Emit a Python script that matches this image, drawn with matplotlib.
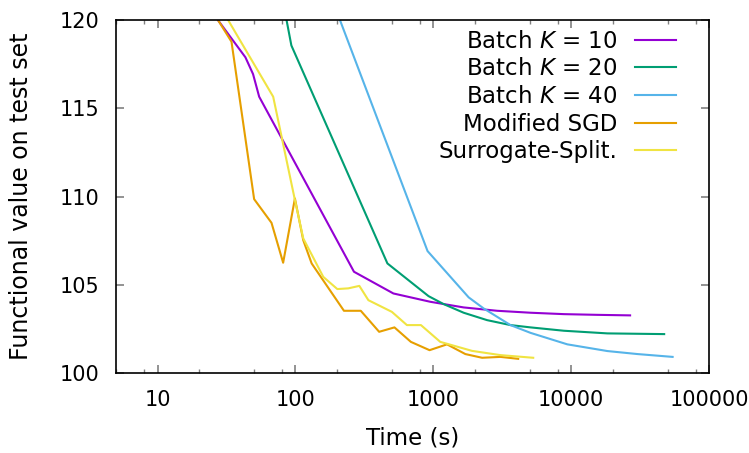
import matplotlib
matplotlib.use("Agg")
import matplotlib.pyplot as plt
from matplotlib.ticker import LogLocator, FixedLocator, FixedFormatter, NullFormatter

plt.rcParams['font.family'] = ['DejaVu Sans']
plt.rcParams['mathtext.fontset'] = 'dejavusans'

# series (time in s, functional value)
k10_t = [20.2, 43.4, 49.3, 54.6, 266, 514, 951, 1661, 2906, 5076, 8864, 15505, 26770]
k10_v = [121.4, 117.89, 116.94, 115.66, 105.75, 104.52, 104.05, 103.73, 103.54, 103.43, 103.35, 103.31, 103.28]

k20_t = [78.4, 93.5, 465, 924, 1188, 1661, 2458, 3631, 5076, 8864, 18340, 47300]
k20_v = [121.7, 118.56, 106.22, 104.37, 103.92, 103.43, 103.01, 102.73, 102.60, 102.41, 102.26, 102.22]

k40_t = [174, 909, 1806, 2322, 3631, 5076, 9385, 18340, 30300, 54450]
k40_v = [121.7, 106.92, 104.30, 103.67, 102.73, 102.29, 101.64, 101.26, 101.09, 100.93]

sgd_t = [20.1, 34.4, 50.2, 67.1, 81.5, 99.2, 114, 131.2, 225, 298, 405, 523, 688, 940, 1258, 1709, 2261, 3072, 4130]
sgd_v = [121.7, 118.77, 109.86, 108.52, 106.26, 109.90, 107.54, 106.22, 103.54, 103.54, 102.35, 102.60, 101.78, 101.31, 101.64, 101.09, 100.88, 100.93, 100.82]

sur_t = [24.2, 69.0, 99.2, 114, 159.3, 201.4, 242, 291, 338.4, 500.7, 644, 813.8, 1124, 1912, 3072, 5309]
sur_v = [121.7, 115.66, 109.81, 107.64, 105.46, 104.77, 104.81, 104.95, 104.14, 103.48, 102.73, 102.73, 101.78, 101.27, 101.03, 100.88]

labels = ['Batch $K$ = 10', 'Batch $K$ = 20', 'Batch $K$ = 40', 'Modified SGD', 'Surrogate-Split.']
colors = ['#9400d3', '#009e73', '#56b4e9', '#e69f00', '#f0e442']
xticks = [10, 100, 1000, 10000, 100000]
xticklabels = ['10', '100', '1000', '10000', '100000']

fig = plt.figure(figsize=(7.49, 4.53), dpi=100)
ax = fig.add_axes([0.1549, 0.1759, 0.7917, 0.7799])

series = [(k10_t, k10_v), (k20_t, k20_v), (k40_t, k40_v), (sgd_t, sgd_v), (sur_t, sur_v)]
for (t, v), lab, c in zip(series, labels, colors):
    ax.plot(t, v, color=c, lw=1.5, label=lab)

ax.set_xscale('log')
ax.set_xlim(5, 100000)
ax.set_ylim(100, 120)
ax.xaxis.set_major_locator(FixedLocator(xticks))
ax.xaxis.set_major_formatter(FixedFormatter(xticklabels))
ax.xaxis.set_minor_locator(LogLocator(base=10, subs=(2, 5, 8)))
ax.xaxis.set_minor_formatter(NullFormatter())
ax.set_yticks([100, 105, 110, 115, 120])

ax.tick_params(which='both', direction='in', top=True, right=True, color='#808080', labelsize=15)
ax.tick_params(which='major', length=6, width=1.2, pad=12)
ax.tick_params(which='minor', length=3, width=1.0)
for s in ax.spines.values():
    s.set_linewidth(1.2)

ax.set_xlabel('Time (s)', fontsize=16.5, labelpad=12)
ax.set_ylabel('Functional value on test set', fontsize=17, labelpad=19)

ax.legend(loc='upper right', bbox_to_anchor=(0.944, 0.972), frameon=False, markerfirst=False,
          fontsize=16.5, handlelength=1.8, handletextpad=0.75, labelspacing=0.2,
          borderaxespad=0, borderpad=0)

fig.savefig('out.png', dpi=100)
